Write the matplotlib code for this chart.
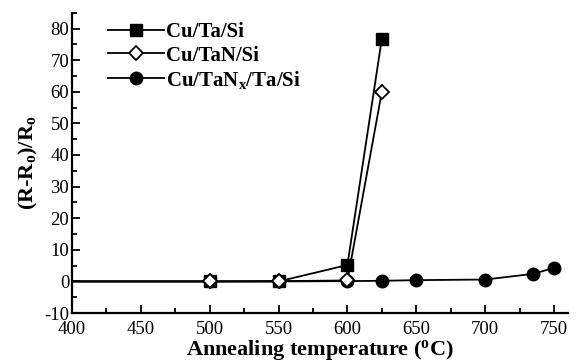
import matplotlib.pyplot as plt
from matplotlib.ticker import MultipleLocator

plt.rcParams['font.family'] = 'Liberation Serif'
plt.rcParams['mathtext.fontset'] = 'custom'
plt.rcParams['mathtext.rm'] = 'Liberation Serif:bold'
plt.rcParams['mathtext.it'] = 'Liberation Serif:bold'
plt.rcParams['mathtext.bf'] = 'Liberation Serif:bold'
plt.rcParams['axes.unicode_minus'] = False

# Data (as-deposited at room temperature, then annealed)
temp_ta = [25, 500, 550, 600, 625]
ratio_ta = [0, 0, 0, 5.2, 76.8]

temp_tan = [25, 500, 550, 600, 625]
ratio_tan = [0, 0, 0.1, 0.3, 60]

temp_tanx = [25, 500, 550, 600, 625, 650, 700, 735, 750]
ratio_tanx = [0, 0, 0, 0.1, 0.2, 0.4, 0.6, 2.4, 4.3]

fig = plt.figure(figsize=(5.8, 3.64), dpi=100)
ax = fig.add_axes([0.124, 0.140, 0.855, 0.825])

ax.plot(temp_tanx, ratio_tanx, '-o', color='black', lw=1.3, ms=9,
        label='Cu/TaN$_{\\rm x}$/Ta/Si', zorder=2)
ax.plot(temp_ta, ratio_ta, '-s', color='black', lw=1.3, ms=8,
        label='Cu/Ta/Si', zorder=3)
ax.plot(temp_tan, ratio_tan, '-D', color='black', mfc='white', mew=1.3,
        lw=1.3, ms=7.5, label='Cu/TaN/Si', zorder=4)

ax.set_xlim(400, 760)
ax.set_ylim(-10, 85)
ax.set_xticks(range(400, 751, 50))
ax.xaxis.set_minor_locator(MultipleLocator(25))
ax.yaxis.set_major_locator(MultipleLocator(10))
ax.yaxis.set_minor_locator(MultipleLocator(5))
ax.tick_params(which='both', direction='in', labelsize=13.5, width=1.3)
ax.tick_params(which='major', length=6)
ax.tick_params(which='minor', length=3.5)
ax.tick_params(axis='x', which='major', pad=6)
ax.tick_params(axis='y', which='major', pad=2)

for s in ['top', 'right']:
    ax.spines[s].set_visible(False)
for s in ['left', 'bottom']:
    ax.spines[s].set_linewidth(1.6)

ax.set_xlabel('Annealing temperature ($^{\\rm o}$C)', fontsize=16,
              fontweight='bold', labelpad=0)
ax.set_ylabel('(R-R$_{\\rm o}$)/R$_{\\rm o}$', fontsize=16,
              fontweight='bold', labelpad=3)

handles, labels = ax.get_legend_handles_labels()
order = [1, 2, 0]
ax.legend([handles[i] for i in order], [labels[i] for i in order],
          loc='upper left', bbox_to_anchor=(0.035, 1.03), frameon=False,
          prop={'weight': 'bold', 'size': 15}, handlelength=2.7,
          handletextpad=0.1, labelspacing=0.15)

fig.savefig('out.png', dpi=100)
